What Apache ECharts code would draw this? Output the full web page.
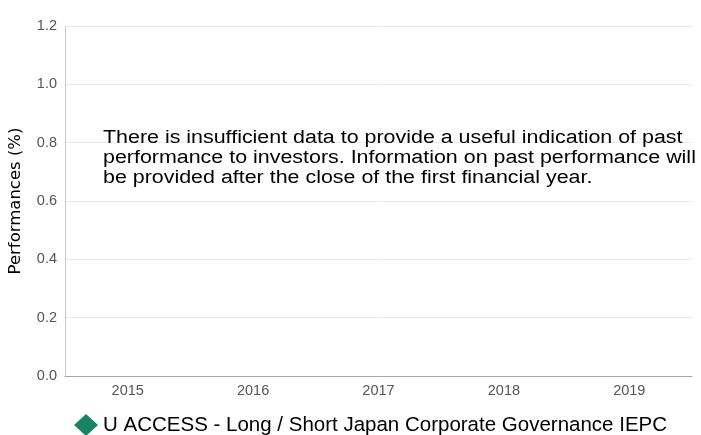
<!DOCTYPE html>
<html><head><meta charset="utf-8">
<script src="https://cdn.jsdelivr.net/npm/echarts@6/dist/echarts.min.js"></script>
<style>html,body{margin:0;padding:0;background:#fff}#c{width:701px;height:435px}</style>
</head><body><div id="c"></div>
<script>
const categories = ['2015','2016','2017','2018','2019'];
const seriesName = 'U ACCESS - Long / Short Japan Corporate Governance IEPC';
const seriesValues = [null, null, null, null, null];
const yTicks = {min: 0, max: 1.2, interval: 0.2};
const message = 'There is insufficient data to provide a useful indication of past\nperformance to investors. Information on past performance will\nbe provided after the close of the first financial year.';

const chart = echarts.init(document.getElementById('c'));
chart.setOption({
  animation: false,
  grid: {left: 65, right: 9, top: 26, bottom: 59, containLabel: false, outerBoundsMode: 'none'},
  graphic: [{
    type: 'text', left: 103, top: 128, scaleX: 1.19, z: 10,
    style: {text: message, font: '18px "Liberation Sans"', fill: '#000', lineHeight: 20}
  }],
  legend: {
    top: 409, left: 69, itemWidth: 24, itemHeight: 22, itemGap: 6,
    icon: 'diamond',
    textStyle: {fontFamily: 'Liberation Sans', fontSize: 20.5, color: '#000'},
    data: [seriesName]
  },
  xAxis: {
    type: 'category', data: categories,
    axisLine: {lineStyle: {color: '#a6a6a6'}},
    axisTick: {show: false},
    axisLabel: {color: '#555', fontFamily: 'Liberation Sans', fontSize: 14.5, margin: 7}
  },
  yAxis: {
    type: 'value', min: yTicks.min, max: yTicks.max, interval: yTicks.interval,
    name: 'Performances (%)', nameLocation: 'middle', nameGap: 41,
    nameTextStyle: {fontFamily: 'DejaVu Sans', fontSize: 16.5, color: '#000'},
    axisLine: {show: true, lineStyle: {color: '#c8c8c8'}},
    axisTick: {show: false},
    axisLabel: {color: '#555', fontFamily: 'Liberation Sans', fontSize: 14.5, margin: 8,
      formatter: v => v.toFixed(1)},
    splitLine: {lineStyle: {color: '#ebebeb'}}
  },
  series: [{
    name: seriesName, type: 'line', data: seriesValues,
    symbol: 'diamond', itemStyle: {color: '#188562'}
  }]
});
</script></body></html>
